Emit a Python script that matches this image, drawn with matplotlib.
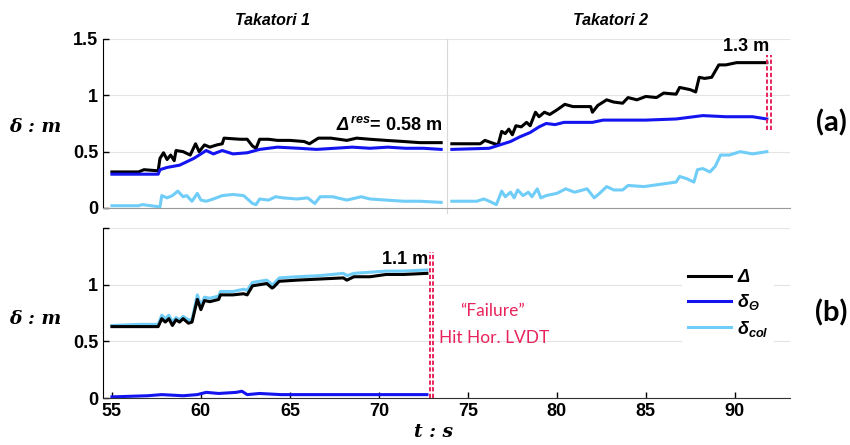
import matplotlib
matplotlib.use('Agg')
import matplotlib.pyplot as plt

plt.rcParams['font.family'] = ['Liberation Sans', 'DejaVu Sans']
plt.rcParams['mathtext.fontset'] = 'custom'
plt.rcParams['mathtext.it'] = 'Liberation Sans:italic:bold'
plt.rcParams['mathtext.rm'] = 'Liberation Sans:italic:bold'
plt.rcParams['mathtext.bf'] = 'Liberation Sans:bold'

# ---- data ----
# (a) Takatori 1
t1_D = [55.0, 56.5, 56.8, 57.6, 57.7, 57.9, 58.1, 58.3, 58.5, 58.6, 59.0, 59.4, 59.7, 59.9, 60.2, 60.5,
        60.9, 61.2, 61.3, 62.2, 62.6, 62.9, 63.1, 63.3, 63.8, 64.3, 65.0, 65.8, 66.1, 66.6, 67.3, 68.2,
        68.75, 69.5, 70.4, 71.4, 72.3, 73.5]
D1 = [0.32, 0.32, 0.34, 0.33, 0.44, 0.49, 0.43, 0.47, 0.42, 0.51, 0.50, 0.47, 0.57, 0.50, 0.56, 0.54,
      0.56, 0.57, 0.62, 0.61, 0.61, 0.55, 0.53, 0.61, 0.61, 0.60, 0.60, 0.59, 0.57, 0.62, 0.62, 0.60,
      0.62, 0.61, 0.60, 0.59, 0.58, 0.58]
t1_th = [55.0, 57.6, 57.7, 58.1, 58.8, 59.2, 59.6, 59.9, 60.3, 60.7, 61.2, 61.8, 62.6, 63.3, 64.3,
         65.5, 66.5, 67.5, 68.5, 69.5, 70.5, 71.5, 72.5, 73.5]
TH1 = [0.30, 0.30, 0.34, 0.36, 0.38, 0.41, 0.44, 0.47, 0.51, 0.48, 0.51, 0.48, 0.49, 0.52, 0.54,
       0.53, 0.52, 0.53, 0.54, 0.53, 0.54, 0.53, 0.53, 0.52]
t1_c = [55.0, 56.5, 56.7, 57.7, 57.8, 58.1, 58.4, 58.7, 59.0, 59.2, 59.5, 59.8, 60.0, 60.3, 60.7,
        61.2, 61.8, 62.4, 62.9, 63.1, 63.3, 63.8, 64.2, 64.6, 65.4, 66.0, 66.4, 66.7, 67.4, 68.2,
        69.0, 69.5, 70.4, 71.4, 72.3, 73.5]
C1 = [0.02, 0.02, 0.03, 0.01, 0.11, 0.09, 0.11, 0.15, 0.10, 0.11, 0.06, 0.13, 0.07, 0.06, 0.08,
      0.11, 0.12, 0.11, 0.04, 0.03, 0.08, 0.07, 0.10, 0.09, 0.08, 0.09, 0.04, 0.10, 0.10, 0.07,
      0.10, 0.08, 0.07, 0.06, 0.06, 0.05]

# (a) Takatori 2
t2_D = [74.1, 75.7, 75.96, 76.5, 76.7, 76.9, 77.1, 77.3, 77.5, 77.7, 78.0, 78.3, 78.5, 78.8, 79.0,
        79.3, 79.6, 80.0, 80.45, 80.9, 81.9, 82.0, 82.3, 82.8, 83.2, 83.7, 84.0, 84.5, 85.0, 85.6,
        86.0, 86.7, 86.9, 87.2, 87.5, 87.8, 88.0, 88.3, 88.7, 89.1, 89.5, 90.1, 90.9, 91.8]
D2 = [0.57, 0.57, 0.60, 0.57, 0.56, 0.68, 0.66, 0.70, 0.65, 0.73, 0.72, 0.76, 0.73, 0.85, 0.81,
      0.85, 0.83, 0.87, 0.92, 0.90, 0.90, 0.85, 0.91, 0.96, 0.94, 0.93, 0.98, 0.96, 0.99, 0.98,
      1.02, 1.01, 1.07, 1.06, 1.05, 1.03, 1.16, 1.15, 1.16, 1.27, 1.27, 1.29, 1.29, 1.29]
t2_th = [74.1, 76.2, 76.8, 77.4, 77.9, 78.5, 79.0, 79.4, 79.9, 80.4, 81.3, 82.0, 82.6, 83.5, 85.0,
         86.7, 88.2, 89.5, 91.0, 91.8]
TH2 = [0.52, 0.53, 0.56, 0.59, 0.63, 0.67, 0.72, 0.75, 0.74, 0.76, 0.76, 0.76, 0.78, 0.78, 0.78,
       0.79, 0.82, 0.81, 0.81, 0.79]
t2_c = [74.1, 75.5, 75.9, 76.2, 76.6, 76.9, 77.1, 77.4, 77.6, 77.8, 78.1, 78.4, 78.6, 78.9, 79.1,
        79.4, 80.0, 80.5, 81.0, 81.7, 82.1, 82.4, 82.8, 83.2, 83.7, 84.0, 84.9, 85.8, 86.7, 86.9,
        87.3, 87.7, 87.9, 88.2, 88.6, 88.9, 89.2, 89.7, 90.3, 91.0, 91.8]
C2 = [0.06, 0.06, 0.08, 0.06, 0.03, 0.15, 0.10, 0.14, 0.09, 0.16, 0.11, 0.14, 0.10, 0.17, 0.09,
      0.11, 0.13, 0.17, 0.14, 0.17, 0.09, 0.13, 0.19, 0.16, 0.16, 0.20, 0.19, 0.21, 0.23, 0.28,
      0.26, 0.23, 0.34, 0.35, 0.32, 0.37, 0.47, 0.47, 0.50, 0.48, 0.50]

# (b)
tb = [55.0, 56.6, 57.4, 57.6, 57.8, 58.0, 58.2, 58.4, 58.6, 58.8, 59.0, 59.3, 59.5, 59.8, 60.0,
      60.2, 60.5, 61.0, 61.1, 61.8, 62.4, 62.6, 62.9, 63.3, 63.7, 64.0, 64.1, 64.4, 65.4, 66.7,
      68.0, 68.2, 68.6, 69.5, 70.4, 71.4, 72.7]
Db = [0.63, 0.63, 0.63, 0.63, 0.70, 0.67, 0.70, 0.64, 0.69, 0.67, 0.70, 0.66, 0.67, 0.87, 0.78,
      0.86, 0.85, 0.87, 0.91, 0.91, 0.92, 0.91, 0.99, 1.00, 1.01, 0.97, 0.98, 1.03, 1.04, 1.05,
      1.06, 1.04, 1.07, 1.07, 1.09, 1.09, 1.10]
Cb = [0.64, 0.65, 0.65, 0.65, 0.73, 0.70, 0.73, 0.67, 0.71, 0.69, 0.72, 0.69, 0.69, 0.91, 0.81,
      0.89, 0.88, 0.90, 0.94, 0.94, 0.96, 0.95, 1.02, 1.03, 1.04, 1.00, 1.01, 1.06, 1.07, 1.08,
      1.10, 1.08, 1.10, 1.11, 1.12, 1.12, 1.13]
tb_th = [55.0, 57.0, 57.8, 59.0, 59.8, 60.3, 61.0, 62.0, 62.3, 62.6, 63.3, 64.5, 66.0, 68.0, 70.0, 72.7]
THb = [0.01, 0.02, 0.03, 0.02, 0.03, 0.05, 0.04, 0.05, 0.06, 0.03, 0.04, 0.03, 0.03, 0.03, 0.03, 0.03]

c_D = 'black'
c_th = '#1414f0'
c_col = '#6fcdf7'
c_red = '#e8245c'
lw = 2.2

fig = plt.figure(figsize=(8.5, 4.45), dpi=100)
ax1 = fig.add_axes([0.1212, 0.5326, 0.8082, 0.3798])
ax2 = fig.add_axes([0.1212, 0.1056, 0.8082, 0.382])

for ax in (ax1, ax2):
    ax.set_xlim(54.5, 93.1)
    ax.set_ylim(0, 1.5)
    ax.set_yticks([0, 0.5, 1, 1.5])
    ax.grid(axis='y', color='#e4e4e4', lw=0.8)
    ax.set_axisbelow(True)
    ax.spines['top'].set_visible(False)
    ax.spines['right'].set_visible(False)
    ax.tick_params(direction='in', length=4, labelsize=13, width=1)

ax1.set_yticklabels(['0', '0.5', '1', '1.5'], fontweight='bold')
ax2.set_yticklabels(['0', '0.5', '1', ''], fontweight='bold')

# (a)
ax1.axvline(73.8, color='#d8d8d8', lw=0.8, ymin=-0.03, clip_on=False)
ax1.plot(t1_D, D1, color=c_D, lw=lw)
ax1.plot(t1_th, TH1, color=c_th, lw=lw)
ax1.plot(t1_c, C1, color=c_col, lw=lw)
ax1.plot(t2_D, D2, color=c_D, lw=lw)
ax1.plot(t2_th, TH2, color=c_th, lw=lw)
ax1.plot(t2_c, C2, color=c_col, lw=lw)
ax1.set_xticks([])
ax1.spines['bottom'].set_color('#999999')
ax1.spines['left'].set_color('black')
for x in (91.8, 92.02):
    ax1.plot([x, x], [0.69, 1.36], color=c_red, lw=1.4, ls=(0, (2.2, 1.2)))

ax1.text(68.3, 0.73, 'Δ', fontsize=13, fontweight='bold', style='italic', ha='right', va='center')
ax1.text(73.55, 0.73, r'$^{res}$= 0.58 m', fontsize=13, fontweight='bold', ha='right', va='center')
ax1.text(91.95, 1.43, '1.3 m', fontsize=13, fontweight='bold', ha='right', va='center')

# (b)
ax2.plot(tb_th, THb, color=c_th, lw=lw, label=r'δ$_{Θ}$')
ax2.plot(tb, Cb, color=c_col, lw=lw, label=r'δ$_{col}$')
ax2.plot(tb, Db, color=c_D, lw=lw, label='Δ')
for x in (72.86, 73.05):
    ax2.plot([x, x], [0, 1.29], color=c_red, lw=1.4, ls=(0, (2.2, 1.2)))
ax2.set_xticks([55, 60, 65, 70, 75, 80, 85, 90])
ax2.set_xticklabels(['55', '60', '65', '70', '75', '80', '85', '90'], fontweight='bold')
ax2.spines['bottom'].set_color('#333333')
ax2.text(72.75, 1.22, '1.1 m', fontsize=13, fontweight='bold', ha='right', va='center')
ax2.text(76.4, 0.77, '\u201cFailure\u201d', fontsize=12.5, color=c_red, ha='center', va='center',
         family=['Lato', 'DejaVu Sans'])
ax2.text(73.4, 0.53, 'Hit Hor. LVDT', fontsize=12.5, color=c_red, ha='left', va='center',
         family=['Lato', 'DejaVu Sans'])

h, l = ax2.get_legend_handles_labels()
order = [2, 0, 1]
leg = ax2.legend([h[i] for i in order], [l[i] for i in order], loc='upper left',
                 bbox_to_anchor=(0.843, 0.79), frameon=True, handlelength=2.4,
                 prop={'size': 13, 'weight': 'bold', 'style': 'italic'},
                 labelspacing=0.35, borderpad=0.3, handletextpad=0.35, borderaxespad=0)
leg.get_frame().set_facecolor('white')
leg.get_frame().set_edgecolor('none')
leg.get_frame().set_alpha(1)

# labels
fig.text(0.321, 0.955, 'Takatori 1', fontsize=11.5, fontweight='bold', style='italic', ha='center', va='center')
fig.text(0.718, 0.955, 'Takatori 2', fontsize=11.5, fontweight='bold', style='italic', ha='center', va='center')
fig.text(0.041, 0.715, 'δ : m', fontsize=13.5, fontweight='bold', style='italic', family='DejaVu Serif',
         ha='center', va='center')
fig.text(0.041, 0.283, 'δ : m', fontsize=13.5, fontweight='bold', style='italic', family='DejaVu Serif',
         ha='center', va='center')
fig.text(0.51, 0.03, 't : s', fontsize=13.5, fontweight='bold', style='italic', family='DejaVu Serif',
         ha='center', va='center')
fig.text(0.978, 0.723, '(a)', fontsize=21, fontweight='bold', family=['Lato', 'DejaVu Sans'],
         ha='center', va='center')
fig.text(0.978, 0.296, '(b)', fontsize=21, fontweight='bold', family=['Lato', 'DejaVu Sans'],
         ha='center', va='center')

fig.savefig('out.png', dpi=100)
